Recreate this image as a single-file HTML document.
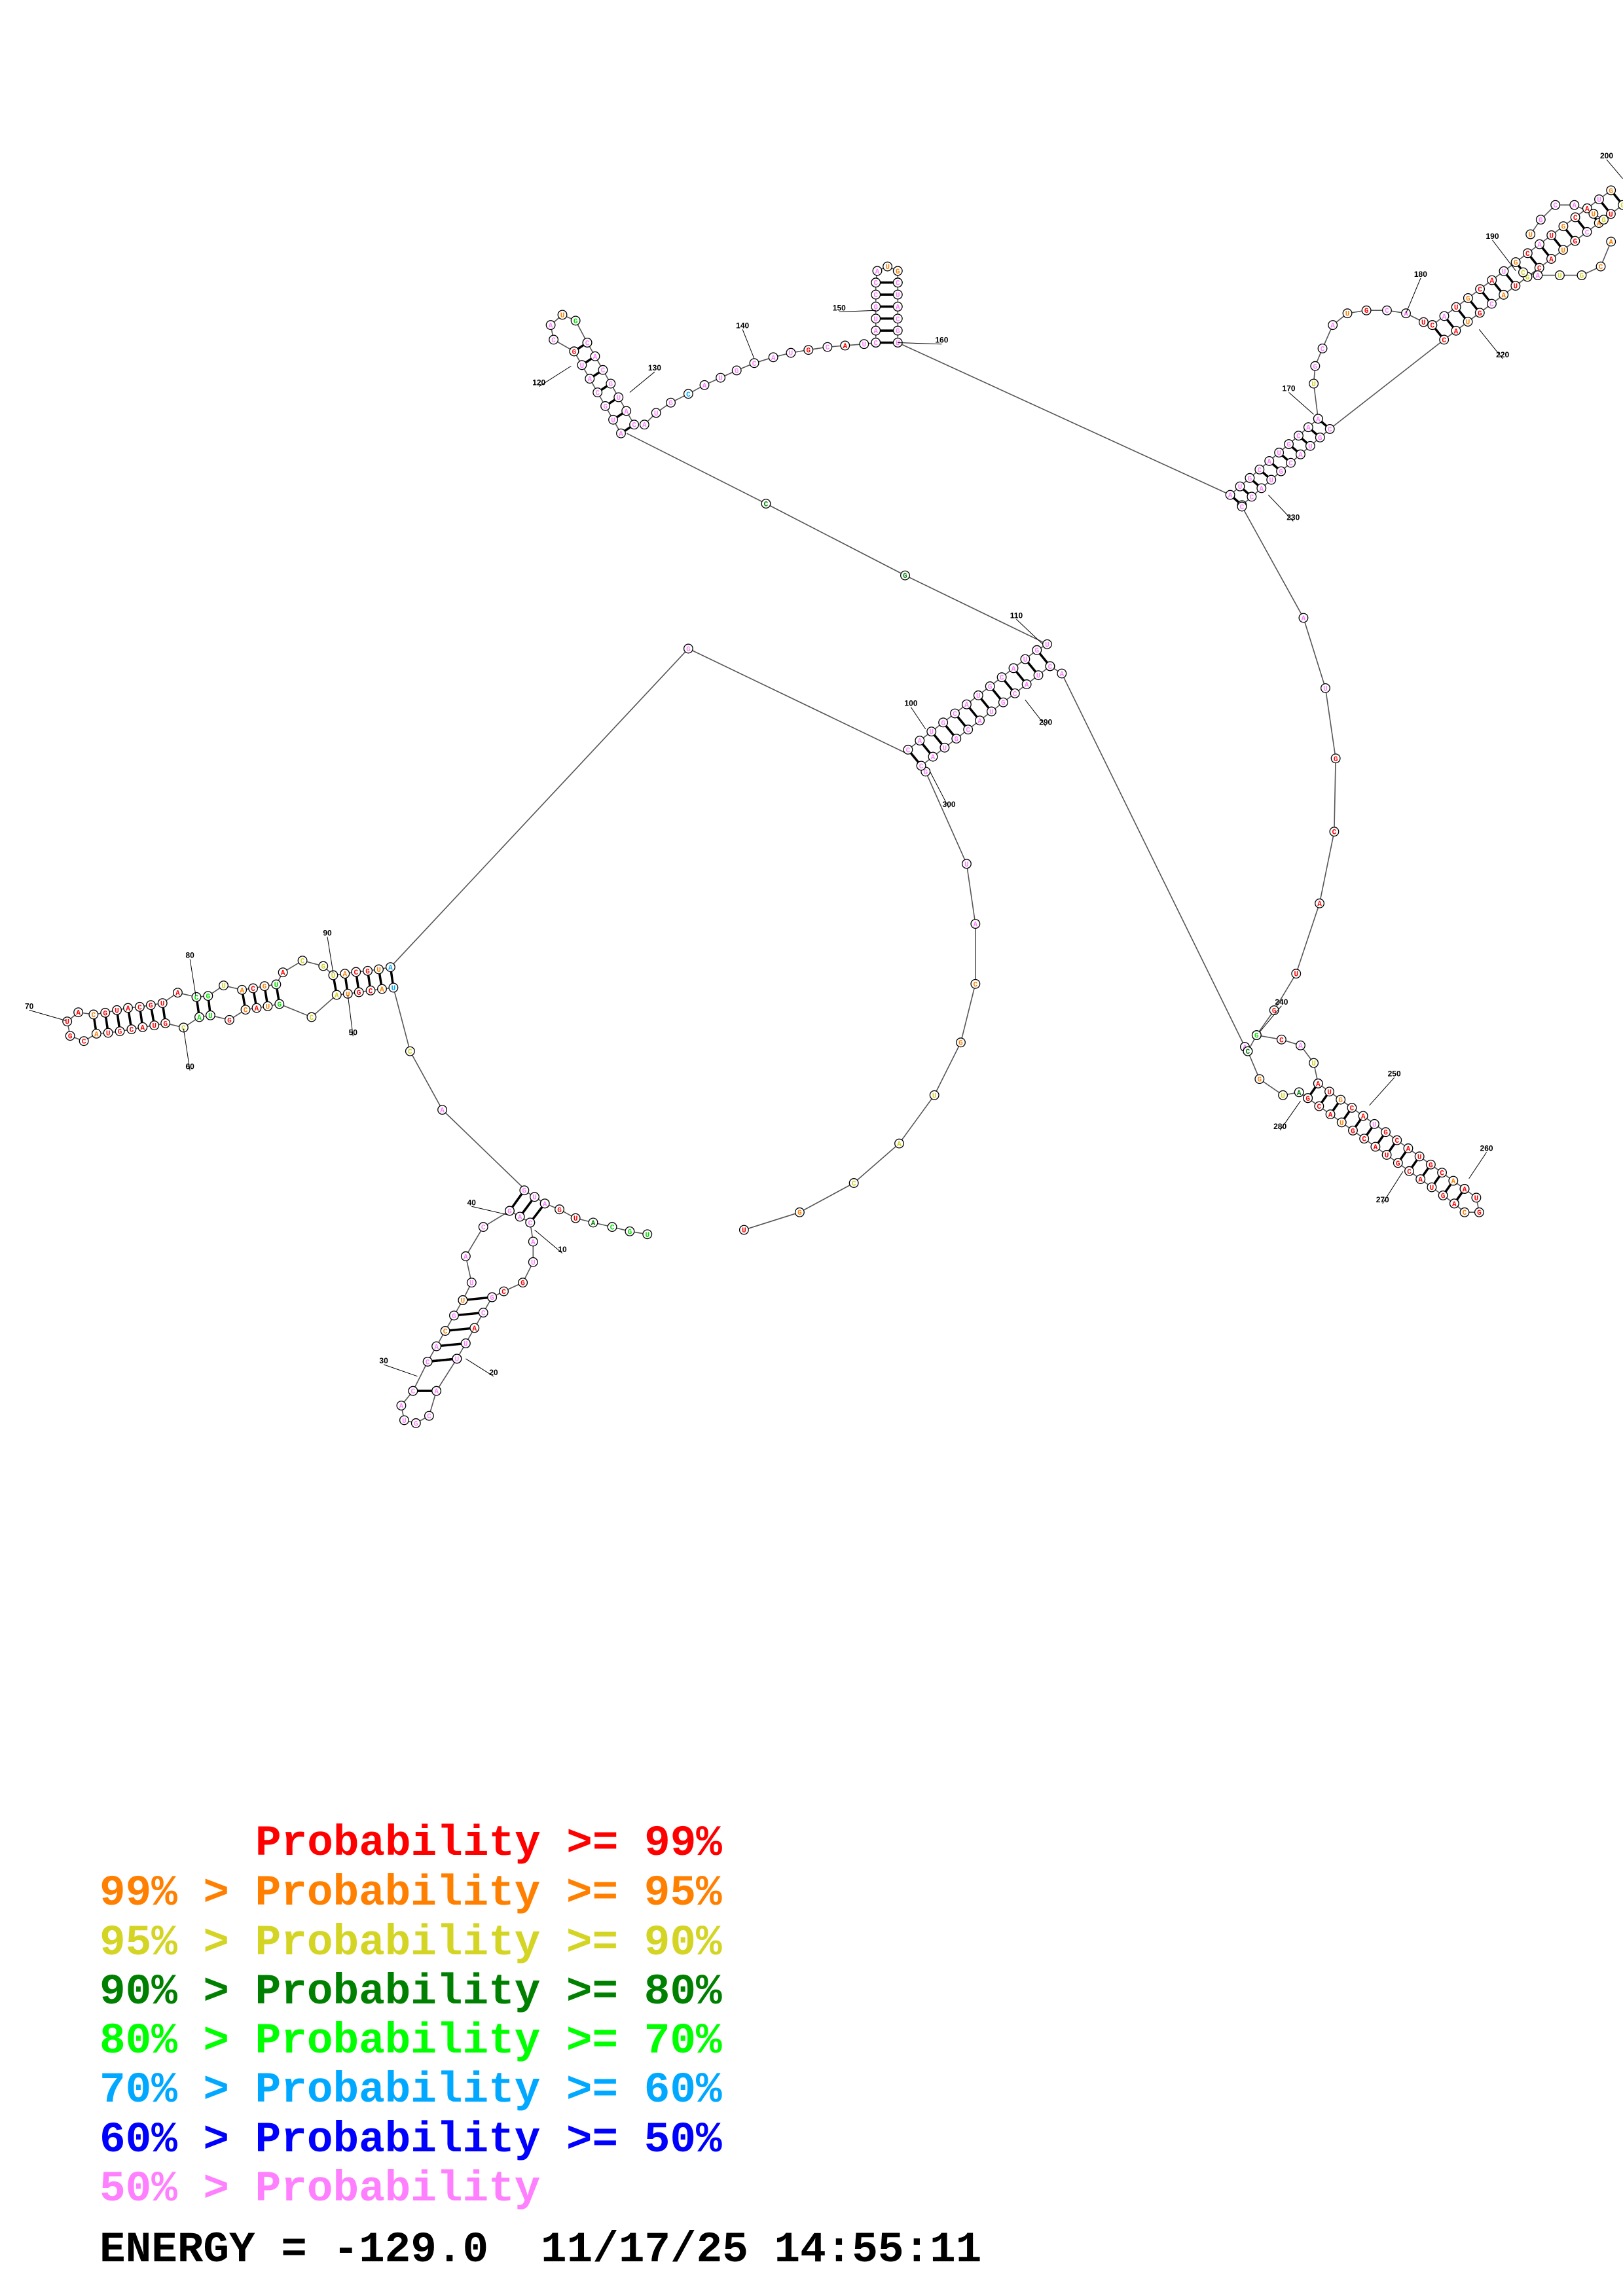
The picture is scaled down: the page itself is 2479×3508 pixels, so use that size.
<!DOCTYPE html>
<html><head><meta charset="utf-8">
<style>
html,body{margin:0;padding:0;background:#fff;}
svg{display:block;}
.lg text{font-family:"Liberation Mono","DejaVu Sans Mono",monospace;font-weight:bold;font-size:66px;}
</style></head>
<body>
<svg id="s" xmlns="http://www.w3.org/2000/svg" width="2479" height="3508" viewBox="0 0 2479 3508">
<g id="lines" stroke="#555" stroke-width="1.6" fill="none"></g>
<g id="rungs" stroke="#000" stroke-width="3.5"></g>
<g id="nodes"></g>
<g id="labels" font-family="Liberation Sans, sans-serif" font-weight="bold" font-size="12" fill="#000"></g>
<g class="lg">
<text x="390" y="2834" fill="#ff0000">Probability &gt;= 99%</text>
<text x="152" y="2910" fill="#ff8000">99% &gt; Probability &gt;= 95%</text>
<text x="152" y="2986" fill="#d4d424">95% &gt; Probability &gt;= 90%</text>
<text x="152" y="3061" fill="#008000">90% &gt; Probability &gt;= 80%</text>
<text x="152" y="3136" fill="#00ff00">80% &gt; Probability &gt;= 70%</text>
<text x="152" y="3211" fill="#00a8ff">70% &gt; Probability &gt;= 60%</text>
<text x="152" y="3287" fill="#0000ff">60% &gt; Probability &gt;= 50%</text>
<text x="152" y="3362" fill="#ff80ff">50% &gt; Probability</text>
<text x="152" y="3455" fill="#000">ENERGY = -129.0</text>
<text x="826" y="3455" fill="#000">11/17/25 14:55:11</text>
</g>
</svg>
<script>
(function(){
var S=2.237, NS="http://www.w3.org/2000/svg";
var C={r:'#ff0000',o:'#ff8000',y:'#d4d424',g:'#008000',l:'#00e000',c:'#00a8ff',b:'#0000ff',p:'#ff80ff'};
var L=document.getElementById('lines'),R=document.getElementById('rungs'),N=document.getElementById('nodes'),LB=document.getElementById('labels');
function el(p,t,a){var e=document.createElementNS(NS,t);for(var k in a)e.setAttribute(k,a[k]);p.appendChild(e);return e;}
function T(p){return [p[0]*S,p[1]*S];}
function Z(x,y){return [x/2.24/S,(1350+y/3)/S];}
function line(pts){var d=pts.map(function(p,i){var q=T(p);return (i?'L':'M')+q[0].toFixed(1)+' '+q[1].toFixed(1);}).join(' ');el(L,'path',{d:d});}
var letters='AUGC';var li=0;
function node(p,c){var q=T(p);var g=el(N,'g',{});el(g,'circle',{cx:q[0],cy:q[1],r:6.8,fill:'#fff',stroke:'#000','stroke-width':1.3});
 var t=el(g,'text',{x:q[0],y:q[1]+4,'text-anchor':'middle','font-family':'Liberation Mono, monospace','font-weight':'bold','font-size':11,fill:C[c]||C.p});t.textContent=letters[(li++)%4];}
function interp(a,b,n,inc){var r=[];for(var i=0;i<n;i++){var t=inc?(n==1?0:i/(n-1)):(i+1)/(n+1);r.push([a[0]+(b[0]-a[0])*t,a[1]+(b[1]-a[1])*t]);}return r;}
function chain(pts,cols){line(pts);pts.forEach(function(p,i){node(p,cols?(cols[i]||cols[cols.length-1]):'p');});}
function rung(a,b){var p=T(a),q=T(b);el(R,'line',{x1:p[0],y1:p[1],x2:q[0],y2:q[1]});}
function helix(a1,a2,b1,b2,n,ca,cb){var A=interp(a1,a2,n,1),B=interp(b1,b2,n,1);for(var i=0;i<n;i++)rung(A[i],B[i]);line(A);line(B);A.forEach(function(p,i){node(p,ca?ca[i%ca.length]:'p');});B.forEach(function(p,i){node(p,cb?cb[i%cb.length]:'p');});return [A,B];}
function lab(t,p,to){var q=T(p);if(to){var r=T(to);el(LB,'line',{x1:q[0],y1:q[1],x2:r[0],y2:r[1],stroke:'#000','stroke-width':1});}var e=el(LB,'text',{x:q[0],y:q[1]-2,'text-anchor':'middle'});e.textContent=t;}

var hAup=[[1336,383,'c'],[1296,393,'o'],[1258,400,'r'],[1218,405,'r'],[1180,413,'o'],[1140,420,'y'],[1106,378,'y'],[1035,353,'y'],[968,407,'r'],[945,462,'l'],[905,470,'o'],[866,480,'r'],[828,487,'o'],[765,467,'y'],[712,515,'l'],[672,520,'l'],[608,500,'r'],[556,548,'r'],[516,557,'r'],[478,565,'r'],[438,570,'r'],[400,580,'r'],[360,592,'r'],[320,600,'o'],[268,590,'r'],[230,632,'r'],[240,698,'r'],[287,722,'r'],[330,688,'o'],[370,684,'r'],[410,677,'r'],[450,668,'r'],[488,658,'r'],[528,650,'r'],[566,640,'r'],[628,660,'y'],[682,612,'l'],[720,604,'l'],[785,625,'r'],[840,578,'o'],[878,570,'r'],[916,562,'o'],[956,552,'l'],[1066,612,'y'],[1152,510,'y'],[1190,505,'o'],[1228,498,'r'],[1268,490,'r'],[1307,483,'o'],[1346,477,'c']];
var HA=hAup.map(function(a){return Z(a[0],a[1]);});
var pairs=[[320,330],[360,370],[400,410],[438,450],[478,488],[516,528],[556,566],[672,682],[712,720],[828,840],[866,878],[905,916],[945,956],[1140,1152],[1180,1190],[1218,1228],[1258,1268],[1296,1307],[1336,1346]];
function findX(x){for(var i=0;i<hAup.length;i++)if(hAup[i][0]==x)return HA[i];}
pairs.forEach(function(p){rung(findX(p[0]),findX(p[1]));});
line([[620,515],[470,443],HA[0]]);
line(HA);
line([HA[HA.length-1],[280,718],[302,758],[358,812]]);
HA.forEach(function(p,i){node(p,hAup[i][2]);});
node([470,443],'p');node([280,718],'y');node([302,758],'p');

chain([[442,843],[430,841],[418,838],[405,835],[393,832],[382,826],[372,822]],['l','l','l','g','r','r','p']);
helix([372,822],[358,813],[362,835],[348,827],3);
chain([[348,827],[330,838],[318,858],[322,876],[316,888]]);
chain([[362,835],[364,848],[364,862],[357,876],[344,882],[336,886]],['p','p','p','r','r','y']);
helix([316,888],[292,930],[336,886],[312,928],5,['o','p'],['p','p','r','p']);
helix([292,930],[282,950],[312,928],[298,950],2);
chain([[282,950],[274,960],[276,970],[284,972],[293,967],[298,950]]);

chain([[508,840],[546,828],[583,808],[614,781],[638,748],[656,712],[666,672],[666,631],[660,590],[632,527]],['r','o','y','y','y','o','o','p','p','p']);
helix([620,512],[708,444],[629,523],[717,455],12);
chain([[717,455],[725,460]]);
line([[725,460],[850,715]]);
line([[708,444],[715,440],[618,393],[523,344],[428,296]]);
node([715,440],'p');node([618,393],'g');node([523,344],'g');
helix([424,296],[392,240],[433,290],[401,234],7);
chain([[392,240],[378,232],[376,222],[384,215],[393,219],[401,234]],['r','p','p','o','l','p']);
var arc=[[440,290],[448,282],[458,275],[470,269],[481,263],[492,258],[503,253],[515,248],[528,244],[540,241],[552,239],[565,237],[577,236],[590,235],[598,234]];
chain(arc,['p','p','p','c','p','p','p','p','p','p','r','p','r','p','p']);
helix([598,234],[598,193],[613,234],[613,193],6);
chain([[598,193],[599,185],[606,182],[613,185],[613,193]],['p','p','o','o','p']);
line([[613,234],[840,338]]);
helix([840,338],[900,286],[848,345],[908,293],10);
chain([[900,286],[897,262],[898,250],[903,238],[910,222],[920,214],[933,212],[947,212],[960,214],[972,220],[978,222]],['p','y','p','p','p','o','r','p','p','r','p']);
line([[908,293],[986,232]]);
helix([978,222],[1100,130],[986,232],[1108,140],16,['r','p','r','o','r','r','p','o'],['r','r','o','r','p','o','r','y']);
chain([[1040,186],[1050,188],[1065,188],[1080,188],[1093,182],[1100,165]],['y','p','y','y','o','o']);
chain([[1045,160],[1052,150],[1062,140],[1075,140],[1088,146],[1095,150]],['o','p','p','p','o','y']);
chain([[848,346],[890,422],[905,470],[912,518],[911,568],[901,617],[885,665],[870,690],[858,707]],['p','p','p','r','r','r','r','r','l']);
chain([[850,715],[852,718],[858,707],[875,710],[888,714],[897,726],[900,740]],['p','g','l','r','p','y','y']);
chain([[893,750],[887,746],[876,748],[860,737],[852,718]],['l','g','y','o','g']);
helix([900,740],[1000,812],[893,750],[993,822],14,['r','r','o','r','r','p','r','r','r','r','r','r','o','r'],['r','r','r','o','r','r','r','r','r','r','r','r','r','r']);
chain([[1000,812],[1008,818],[1010,828],[1000,828],[993,822]],['r','r','r','o','r']);

lab('10',[384,856],[365,840]);lab('20',[337,940],[318,928]);lab('30',[262,932],[285,940]);lab('40',[322,824],[348,830]);
lab('50',Z(1208,700),Z(1190,510));lab('60',Z(650,857),Z(628,665));lab('70',Z(100,580),Z(225,628));lab('80',Z(650,347),Z(670,515));lab('90',Z(1120,244),Z(1140,410));
lab('100',[622,483],[632,498]);lab('110',[694,423],[712,440]);lab('120',[368,264],[390,250]);lab('130',[447,254],[430,268]);
lab('140',[507,225],[515,245]);lab('150',[573,213],[598,212]);lab('160',[643,235],[613,234]);lab('170',[880,268],[897,283]);
lab('180',[970,190],[960,214]);lab('190',[1019,164],[1035,185]);lab('200',[1097,109],[1108,122]);lab('220',[1026,245],[1010,225]);
lab('230',[883,356],[866,338]);lab('240',[875,687],[860,705]);lab('250',[952,736],[935,755]);lab('260',[1015,787],[1003,805]);
lab('270',[944,822],[958,800]);lab('280',[874,772],[888,752]);lab('290',[714,496],[700,478]);lab('300',[648,552],[635,527]);
})();
</script>
</body></html>
